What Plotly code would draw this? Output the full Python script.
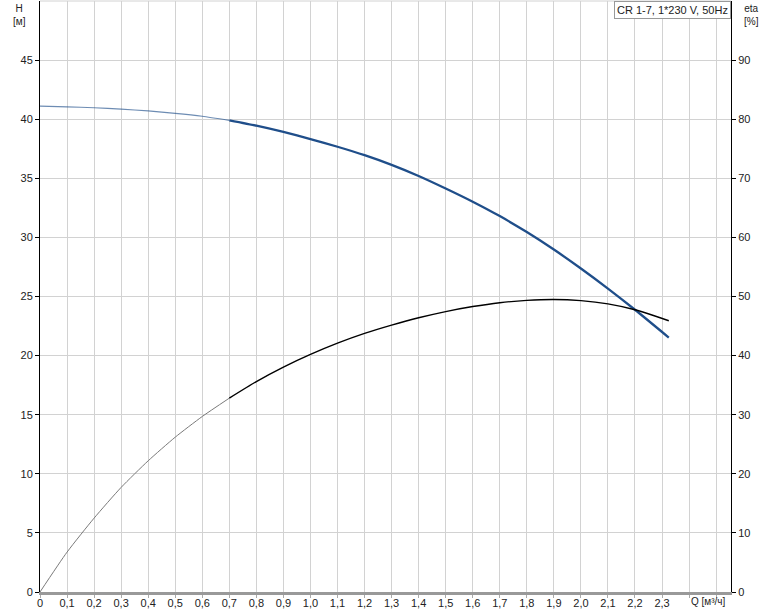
import plotly.graph_objects as go

# pump curve readings (Q in m3/h)
q = [0, 0.1, 0.2, 0.3, 0.4, 0.5, 0.6, 0.7, 0.8, 0.9, 1.0, 1.1, 1.2, 1.3, 1.4,
     1.5, 1.6, 1.7, 1.8, 1.9, 2.0, 2.1, 2.2, 2.325]
head = [41.1, 41.05, 40.97, 40.85, 40.7, 40.5, 40.25, 39.9, 39.45, 38.92, 38.32,
        37.67, 36.96, 36.14, 35.2, 34.14, 33.02, 31.8, 30.45, 28.97, 27.37, 25.67,
        23.88, 21.53]
eta = [0, 6.75, 12.5, 17.7, 22.2, 26.2, 29.7, 32.8, 35.6, 38.05, 40.2, 42.1,
       43.75, 45.15, 46.4, 47.45, 48.3, 48.95, 49.35, 49.5, 49.3, 48.75, 47.75, 45.9]
op_start = 7  # start of the operating range (drawn thicker)

x_ticks = [round(i * 0.1, 1) for i in range(26)]
x_labels = [("0" if v == 0 else f"{v:.1f}".replace(".", ",")) if v <= 2.3 else "" for v in x_ticks]
h_ticks = list(range(0, 50, 5))
eta_ticks = list(range(0, 100, 10))

title_text = "CR 1-7, 1*230 V, 50Hz"
font = "Liberation Sans, Arial, sans-serif"
grid = "#d2d2d2"

fig = go.Figure()

# head curve
fig.add_trace(go.Scatter(x=q[:op_start + 1], y=head[:op_start + 1], mode="lines",
                         line=dict(color="rgba(31,78,138,0.65)", width=1.2, shape="spline", smoothing=0.6),
                         hoverinfo="skip"))
fig.add_trace(go.Scatter(x=q[op_start:], y=head[op_start:], mode="lines",
                         line=dict(color="#1f4e8a", width=2.3, shape="spline", smoothing=0.6)))

# efficiency curve
fig.add_trace(go.Scatter(x=q[:op_start + 1], y=eta[:op_start + 1], mode="lines", yaxis="y2",
                         line=dict(color="#7a7a7a", width=1, shape="spline", smoothing=0.6),
                         hoverinfo="skip"))
fig.add_trace(go.Scatter(x=q[op_start:], y=eta[op_start:], mode="lines", yaxis="y2",
                         line=dict(color="black", width=1.4, shape="spline", smoothing=0.6)))

fig.update_layout(
    width=774, height=611,
    margin=dict(l=40, r=43, t=1, b=19),
    paper_bgcolor="white", plot_bgcolor="white",
    showlegend=False,
    font=dict(family=font, size=11, color="#222"),
    xaxis=dict(range=[0, 2.555], tickvals=x_ticks, ticktext=x_labels, automargin=False,
               showgrid=True, gridcolor=grid, gridwidth=1,
               ticks="outside", ticklen=3, tickcolor="#aaaaaa", ticklabelstandoff=-4,
               showline=True, linecolor="#999999", linewidth=3,
               zeroline=False, tickfont=dict(size=11)),
    yaxis=dict(range=[0, 50], tickvals=h_ticks, automargin=False,
               showgrid=True, gridcolor=grid, gridwidth=1,
               ticks="outside", ticklen=4, tickcolor="black",
               showline=True, linecolor="black", linewidth=1,
               zeroline=False, tickfont=dict(size=11)),
    yaxis2=dict(range=[0, 100], tickvals=eta_ticks, overlaying="y", side="right",
                automargin=False, showgrid=False,
                ticks="outside", ticklen=4, tickcolor="black",
                showline=True, linecolor="black", linewidth=1,
                zeroline=False, tickfont=dict(size=11)),
)

# top border of the plot area
fig.add_shape(type="line", xref="paper", yref="paper", x0=0, x1=1, y0=1, y1=1,
              line=dict(color=grid, width=1))

# axis titles
fig.add_annotation(text="H<br>[м]", xref="paper", yref="paper", x=-0.03, y=1.0,
                   xanchor="center", yanchor="top", showarrow=False,
                   font=dict(size=10, color="#222"), align="center")
fig.add_annotation(text="eta<br>[%]", xref="paper", yref="paper", x=1.03, y=1.0,
                   xanchor="center", yanchor="top", showarrow=False,
                   font=dict(size=10, color="#222"), align="center")
fig.add_annotation(text="Q [м³/ч]", xref="x", yref="paper", x=2.47, y=0,
                   xanchor="center", yanchor="top", yshift=-2, showarrow=False,
                   font=dict(size=10, color="#222"))

# curve label box
fig.add_annotation(text=title_text, xref="paper", yref="paper", x=1, y=1,
                   xanchor="right", yanchor="top", showarrow=False,
                   bgcolor="white", bordercolor="#999999", borderwidth=1, borderpad=2,
                   font=dict(size=11, color="#222"))

fig.write_html("out.html", config={"displayModeBar": False},
               post_script="document.body.style.margin='0';")
